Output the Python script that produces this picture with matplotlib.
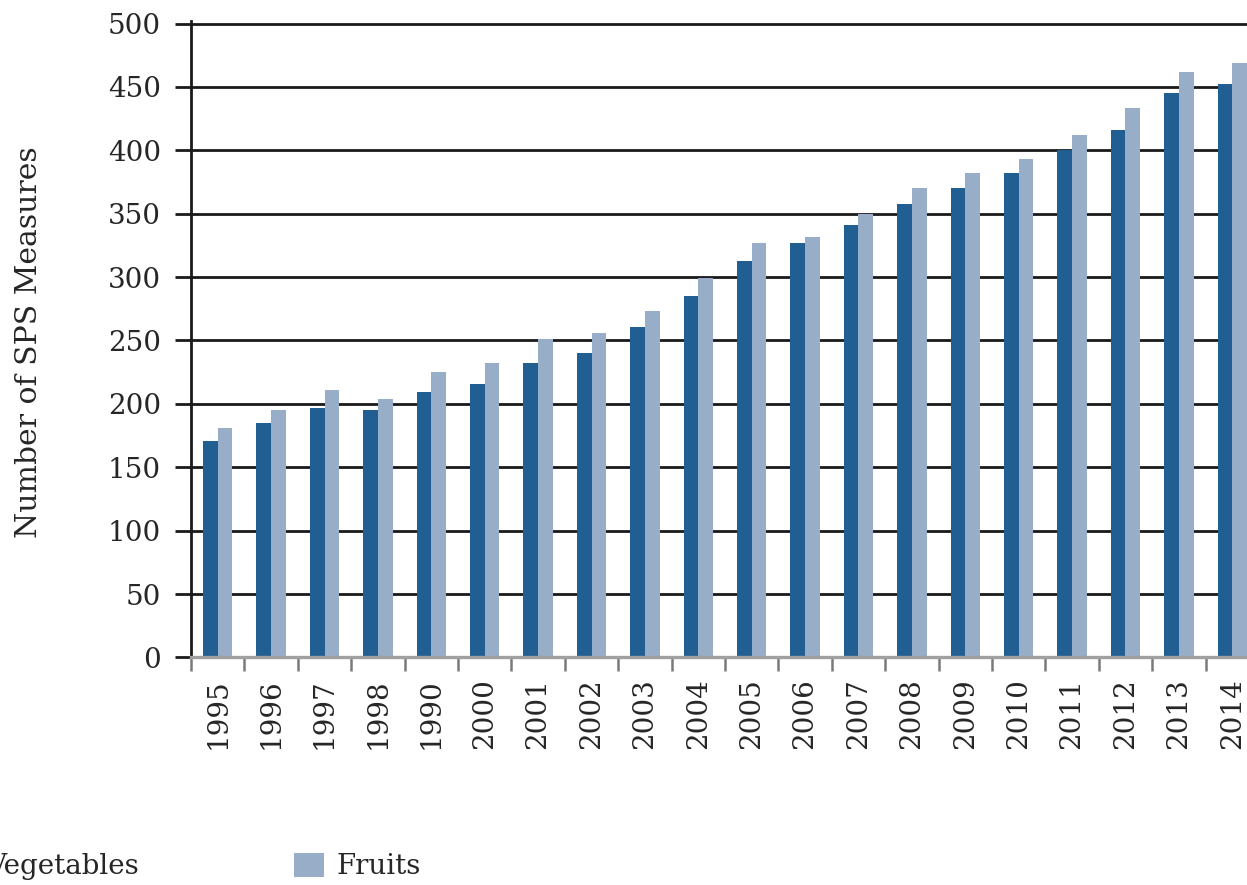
import matplotlib
matplotlib.use('Agg')
import matplotlib.pyplot as plt
import numpy as np

# number of sps measures per year, vegetables vs fruits
years = ['1995', '1996', '1997', '1998', '1990', '2000', '2001', '2002', '2003', '2004',
         '2005', '2006', '2007', '2008', '2009', '2010', '2011', '2012', '2013', '2014']
veg = [171, 185, 197, 195, 209, 216, 232, 240, 261, 285,
       313, 327, 341, 358, 370, 382, 400, 416, 445, 452]
fruit = [181, 195, 211, 204, 225, 232, 251, 256, 273, 299,
         327, 332, 350, 370, 382, 393, 412, 433, 462, 469]
yticks = [0, 50, 100, 150, 200, 250, 300, 350, 400, 450, 500]

vcol = '#215f92'
fcol = '#98aec8'
tcol = '#262626'
fnt = 'DejaVu Serif'
fs = 20

plt.rcParams['font.family'] = fnt

fig = plt.figure(figsize=[12.47, 8.85], dpi=100)
# axes runs a bit past the right edge like the original crop
ax = fig.add_axes([0.1532, 0.2571, 0.8564, 0.7192])

x = np.arange(len(years))
w = 0.275
ax.bar(x - w/2, veg, width=w, color=vcol, label='Vegetables', zorder=3)
ax.bar(x + w/2, fruit, width=w, color=fcol, label='Fruits', zorder=3)

ax.set_xlim(-0.5, len(years) - 0.5)
ax.set_ylim(0, 502)

# grid + y ticks
ax.set_yticks(yticks)
ax.set_yticklabels([str(t) for t in yticks], fontsize=fs, color=tcol)
ax.yaxis.grid(True, color='#1a1a1a', linewidth=2.0)
ax.set_axisbelow(True)
ax.tick_params(axis='y', direction='out', length=11.5, width=2.0, color='#1a1a1a', pad=10)
t0 = ax.yaxis.get_major_ticks()[0]
t0.gridline.set_visible(False)
t0.tick1line.set_color('#9a9a9a')

# x ticks: labels at centers, tick marks between categories
ax.set_xticks(x)
ax.set_xticklabels(years, rotation=90, fontsize=fs, color=tcol)
ax.tick_params(axis='x', which='major', length=0, pad=15)
ax.set_xticks(np.arange(len(years) + 1) - 0.5, minor=True)
ax.tick_params(axis='x', which='minor', direction='out', length=10, width=1.8, color='#7a7a7a')

for s in ['top', 'right']:
    ax.spines[s].set_visible(False)
ax.spines['left'].set_color('#1a1a1a')
ax.spines['left'].set_linewidth(2.0)
ax.spines['bottom'].set_color('#a0a0a0')
ax.spines['bottom'].set_linewidth(2.4)
ax.spines['bottom'].set_zorder(4)

ax.set_ylabel('Number of SPS Measures', fontsize=21.5, color=tcol)
ax.yaxis.set_label_coords(-0.1386, 0.495)

# legend at the bottom, cut off on the left like the source
lgd = fig.legend(loc='center left', bbox_to_anchor=(-0.0457, 0.0209), ncol=2, frameon=False,
                 fontsize=fs, handlelength=1.08, handleheight=0.97, handletextpad=0.47,
                 columnspacing=5.58, borderpad=0, borderaxespad=0)
for t in lgd.get_texts():
    t.set_color(tcol)

plt.savefig('out.png', dpi=100)
